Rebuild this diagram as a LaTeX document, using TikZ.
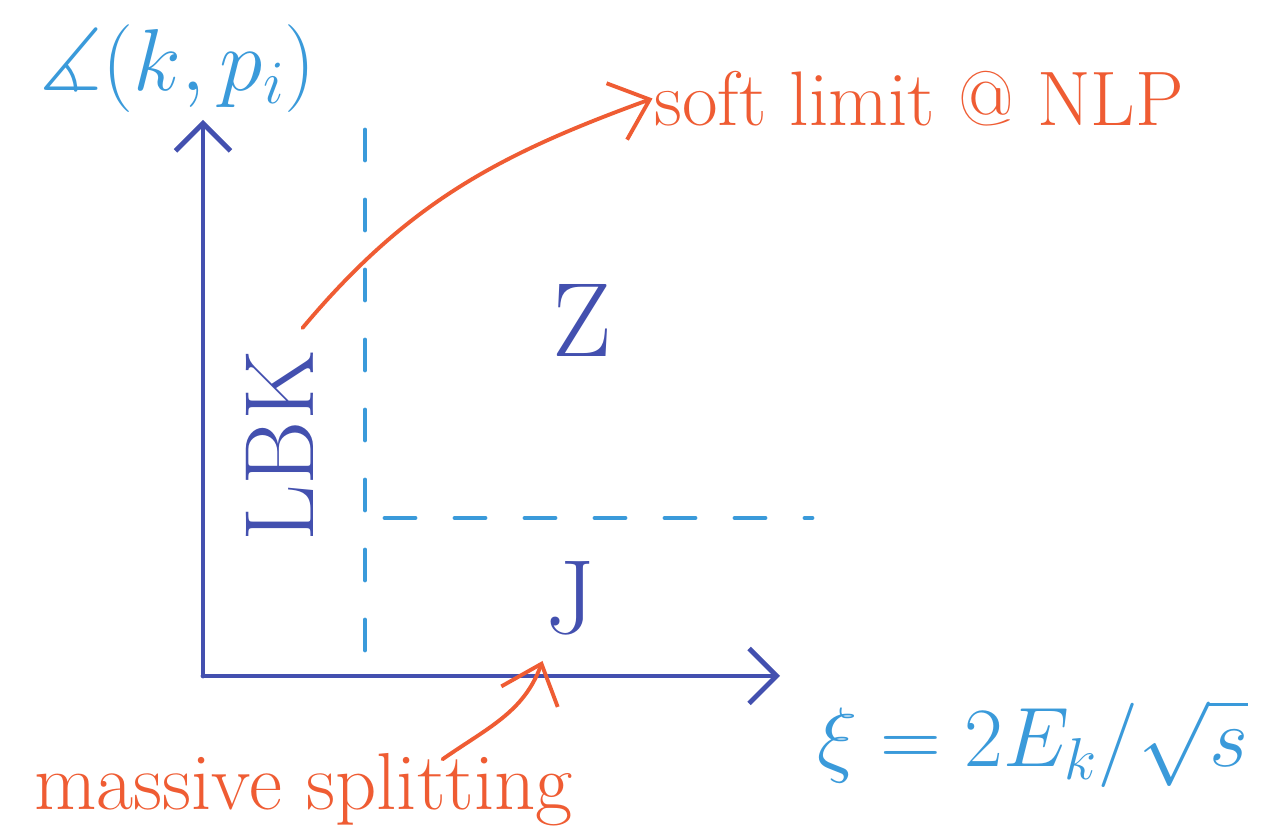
\documentclass[tikz,border=0pt]{standalone}
\usepackage{fix-cm}
\usepackage{amsmath,amssymb}
\usepackage{tikz}
\usetikzlibrary{arrows.meta,calc,positioning}
\definecolor{sketchaxis}{HTML}{4350AF}
\definecolor{sketchlight}{HTML}{3A9ADA}
\definecolor{sketchorange}{HTML}{EF5C33}

\begin{document}
\begin{tikzpicture}[line cap=round,line join=round,
  axis/.style={sketchaxis,line width=2.8pt,-{Straight Barb[length=.55cm,width=1.1cm,line width=2.8pt]}},
  cut/.style={sketchlight,line width=2.8pt,dash pattern=on .6cm off .8cm},
  hint/.style={sketchorange,line width=2.2pt,-{Straight Barb[length=.7cm,width=1.2cm,line width=2.2pt]}},
  lbl/.style={inner sep=1pt}]
\path[use as bounding box] (0,0) rectangle (25.22,16.52);
\fill[white] (0,0) rectangle (25.22,16.52);

% axes
\coordinate (O) at (4.06,3.00);
\coordinate (ytop) at (4.06,14.12);
\coordinate (xend) at (15.6,3.00);
\draw[axis] (O)--(ytop);
\draw[axis] (O)--(xend);

% regions split by the two cuts
\coordinate (vlo) at (7.30,3.42);
\coordinate (vhi) at (7.30,13.92);
\coordinate (hlo) at (7.70,6.16);
\coordinate (hhi) at (16.24,6.16);
\draw[cut] (vhi)--(vlo);
\draw[cut] (hlo)--(hhi);

% labels
\node[lbl,text=sketchlight,font=\fontsize{50}{54}\selectfont] (angle) at (3.55,15.15) {$\measuredangle(k,p_i)$};
\node[lbl,text=sketchorange,font=\fontsize{44}{48}\selectfont,anchor=west] (soft) at (13.05,14.55) {soft limit @ NLP};
\node[lbl,text=sketchaxis,font=\fontsize{60}{64}\selectfont] (zone) at (11.64,10.1) {Z};
\node[lbl,text=sketchaxis,font=\fontsize{60}{64}\selectfont] (jet) at (11.4,4.55) {J};
\node[lbl,text=sketchaxis,font=\fontsize{56}{60}\selectfont,rotate=90] (lbk) at (5.6,7.6) {LBK};
\node[lbl,text=sketchlight,font=\fontsize{48}{52}\selectfont,anchor=west] (xi) at (16.3,1.65) {$\xi = 2E_k/\sqrt{s}$};
\node[lbl,text=sketchorange,font=\fontsize{46}{50}\selectfont,anchor=base east] (split) at (11.5,0.32) {massive splitting};

% arrows to the limits
\coordinate (Jfoot) at (10.85,3.3);
\draw[hint] ($(lbk.east)+(.45,.4)$) to[out=50,in=200] (soft.west);
\draw[hint] ($(split.north east)+(-2.65,-.15)$) to[out=35,in=250] (Jfoot);
\end{tikzpicture}
\end{document}
